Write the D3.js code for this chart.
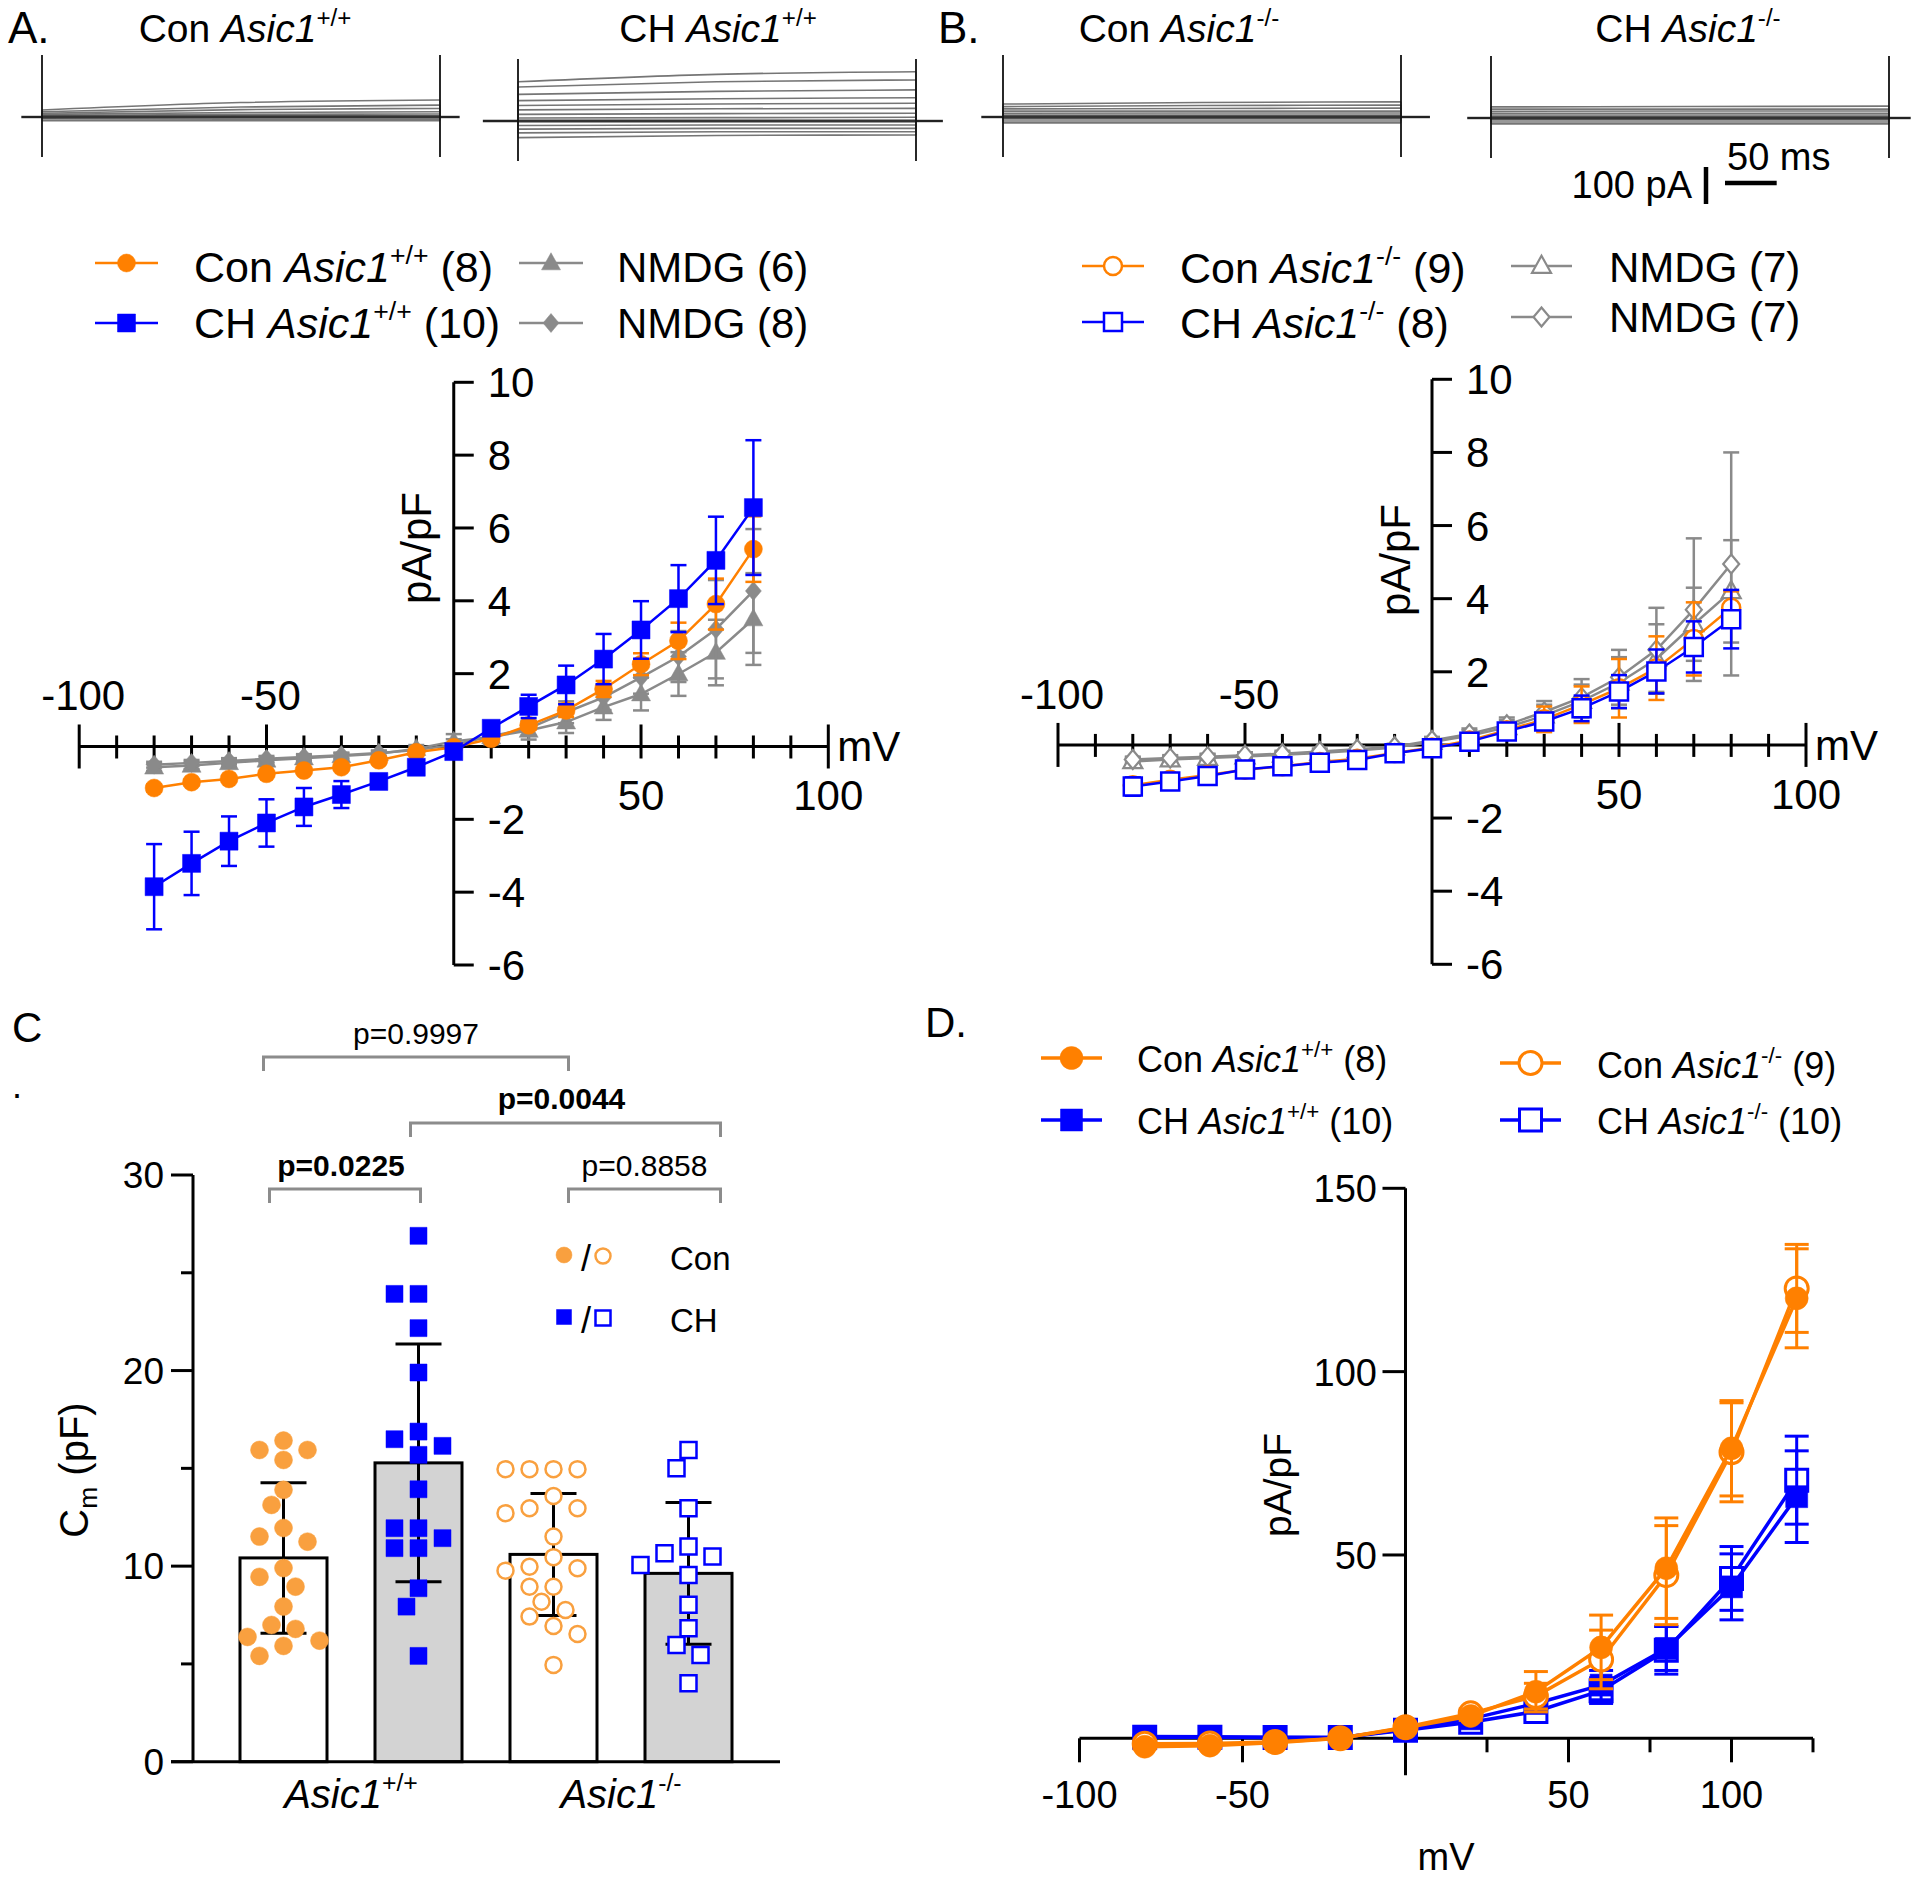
<!DOCTYPE html>
<html><head><meta charset="utf-8">
<script src="https://cdn.jsdelivr.net/npm/d3@7/dist/d3.min.js"></script>
<style>html,body{margin:0;padding:0;background:#fff;}</style>
</head><body>
<svg id="fig" width="1920" height="1879" xmlns="http://www.w3.org/2000/svg"></svg>
<script>
// ================= DATA =================
// Raw traces: each sweep = [start, middle, end] current (pA) during the voltage step
const traceConWT = [[19,39,46],[14,27,32],[10,20,23],[7,12,14],[4,7,8],[1,3,3],[0,0,0],[-5,-6,-6],[-10,-10,-10]];
const traceCHWT  = [[106,126,133],[92,106,111],[72,80,84],[55,60,63],[42,46,48],[30,33,34],[18,20,21],[8,9,10],[0,0,0],[-12,-11,-11],[-22,-20,-20],[-32,-29,-29],[-45,-39,-38]];
const traceConKO = [[35,39,41],[28,31,32],[22,23,24],[16,16,16],[10,11,11],[5,5,5],[0,0,0],[-5,-5,-5],[-11,-11,-11],[-16,-16,-16]];
const traceCHKO  = [[30,31,32],[24,24,24],[18,19,19],[13,13,13],[8,8,8],[4,4,4],[0,0,0],[-5,-5,-5],[-11,-11,-11],[-16,-16,-16]];
const traceTitles = ["Con Asic1+/+","CH Asic1+/+","Con Asic1-/-","CH Asic1-/-"];
const scaleBarPA = 100, scaleBarMS = 50;

// Panel A / B : I-V relations (mV vs pA/pF)
const ivVoltage = [-80,-70,-60,-50,-40,-30,-20,-10,0,10,20,30,40,50,60,70,80];
const ivYTicks = [-6,-4,-2,2,4,6,8,10];
const ivXLabels = [-100,-50,50,100];

const conWT    = [-1.14,-0.98,-0.89,-0.75,-0.66,-0.57,-0.38,-0.16,-0.02,0.21,0.58,0.99,1.58,2.26,2.90,3.91,5.42];
const conWTErr = [0.10,0.08,0.08,0.07,0.07,0.06,0.06,0.05,0.05,0.08,0.12,0.18,0.22,0.30,0.50,0.70,0.90];
const chWT     = [-3.85,-3.21,-2.60,-2.10,-1.66,-1.32,-0.96,-0.57,-0.14,0.50,1.10,1.69,2.40,3.20,4.06,5.11,6.56];
const chWTErr  = [1.17,0.87,0.68,0.65,0.52,0.37,0.15,0.10,0.10,0.15,0.32,0.53,0.69,0.79,0.92,1.20,1.85];
const nmdgA6   = [-0.57,-0.52,-0.45,-0.38,-0.32,-0.26,-0.20,-0.06,0.14,0.26,0.44,0.67,1.08,1.44,1.99,2.58,3.50];
const nmdgA6Err= [0.10,0.10,0.10,0.08,0.08,0.08,0.08,0.10,0.20,0.20,0.25,0.30,0.35,0.45,0.60,0.90,1.26];
const nmdgA8   = [-0.50,-0.45,-0.40,-0.34,-0.29,-0.24,-0.18,-0.10,0.05,0.28,0.50,0.94,1.35,1.90,2.47,3.22,4.27];
const nmdgA8Err= [0.08,0.08,0.08,0.08,0.08,0.07,0.07,0.08,0.15,0.15,0.20,0.30,0.35,0.45,0.70,1.35,1.70];

const conKO    = [-1.10,-0.95,-0.82,-0.68,-0.58,-0.47,-0.38,-0.22,-0.07,0.12,0.40,0.70,1.10,1.55,2.10,2.90,3.75];
const conKOErr = [0.20,0.18,0.15,0.12,0.10,0.08,0.07,0.07,0.07,0.10,0.18,0.35,0.50,0.80,0.87,1.00,0.45];
const chKO     = [-1.14,-1.00,-0.85,-0.67,-0.58,-0.49,-0.41,-0.23,-0.09,0.09,0.37,0.64,1.00,1.46,2.01,2.68,3.44];
const chKOErr  = [0.25,0.20,0.15,0.12,0.10,0.08,0.07,0.07,0.07,0.08,0.12,0.20,0.35,0.45,0.60,0.70,0.80];
const nmdgB7a  = [-0.45,-0.40,-0.36,-0.32,-0.27,-0.22,-0.15,-0.07,0.08,0.25,0.48,0.80,1.20,1.70,2.35,3.30,4.20];
const nmdgB7aErr=[0.10,0.10,0.10,0.08,0.08,0.08,0.08,0.08,0.10,0.15,0.20,0.30,0.45,0.70,0.95,1.00,1.40];
const nmdgB7b  = [-0.40,-0.36,-0.32,-0.28,-0.24,-0.18,-0.12,-0.05,0.12,0.30,0.55,0.90,1.30,1.85,2.60,3.70,4.95];
const nmdgB7bErr=[0.08,0.08,0.08,0.08,0.08,0.08,0.08,0.08,0.10,0.15,0.20,0.30,0.50,0.75,1.15,1.95,3.05];

// Panel C : membrane capacitance
const cmGroups = ["Con Asic1+/+","CH Asic1+/+","Con Asic1-/-","CH Asic1-/-"];
const cmMean = [10.42, 15.28, 10.60, 9.63];
const cmSD   = [3.85, 6.08, 3.12, 3.62];
const cmConWT = [16.42,15.94,15.43,15.94,13.90,13.13,11.95,11.51,11.25,9.90,9.45,8.95,7.93,6.99,6.79,6.38,6.19,5.92,5.41];
const cmCHWT  = [26.89,23.92,23.92,22.17,19.90,16.88,16.49,16.15,15.69,13.93,11.94,11.94,11.43,10.92,10.92,8.87,7.93,5.41];
const cmConKO = [14.96,14.96,14.96,14.96,13.59,12.96,12.96,12.71,11.51,10.46,9.97,9.89,9.77,8.95,8.95,8.18,7.76,7.42,6.94,6.53,4.95];
const cmCHKO  = [15.94,15.00,12.96,11.00,10.66,10.49,10.06,9.55,8.02,6.82,5.97,5.46,4.01];
const cmYTicks = [0,10,20,30];
const cmMinorTicks = [5,15,25];
const pLabels = ["p=0.9997","p=0.0044","p=0.0225","p=0.8858"];

// Panel D
const dVoltage = [-80,-60,-40,-20,0,20,40,60,80,100,120];
const dConWT    = [-2.3,-2.0,-1.2,0.0,2.9,6.1,12.7,24.8,46.4,79.1,120.0];
const dConWTErr = [0.6,0.5,0.4,0.4,0.6,1.2,5.5,8.8,13.7,13.0,13.5];
const dConKO    = [-1.5,-1.4,-1.0,0.0,3.0,6.8,11.5,21.5,44.5,78.0,122.7];
const dConKOErr = [0.5,0.5,0.4,0.4,0.6,1.2,3.5,8.0,13.5,13.5,12.0];
const dCHWT     = [0.5,0.4,0.3,0.2,2.4,5.3,9.5,14.5,24.5,41.3,65.9];
const dCHWTErr  = [0.4,0.4,0.3,0.3,0.5,1.0,2.5,4.0,6.0,9.0,12.5];
const dCHKO     = [0.3,0.3,0.2,0.2,2.2,4.4,7.3,13.0,24.0,43.6,70.4];
const dCHKOErr  = [0.4,0.4,0.3,0.3,0.5,1.0,2.0,3.5,6.5,8.7,12.0];
const dYTicks = [50,100,150];
const dXLabels = [-100,-50,50,100];
const dMajorTicks = [-100,-50,50,100];
const dMinorTicks = [25,75,125];

// ================= DRAWING =================
const svg = d3.select("#fig");
const F = "'Liberation Sans', Arial, Helvetica, sans-serif";
const ORANGE = "#ff8000", BLUE = "#0000ff", GRAY = "#8a8a8a", LORANGE = "#f9a03f";

function addText(g, x, y, parts, size, anchor, weight) {
  const t = g.append("text").attr("x", x).attr("y", y).attr("font-size", size)
    .attr("font-family", F).attr("text-anchor", anchor || "start")
    .attr("font-weight", weight || "normal").attr("fill", "#000");
  if (typeof parts === "string") { t.text(parts); return t; }
  let shift = 0;
  parts.forEach(p => {
    const ts = t.append("tspan").text(p.t);
    if (p.i) ts.attr("font-style", "italic");
    let target = 0;
    if (p.sup) { ts.attr("font-size", size * 0.62); target = -size * 0.42; }
    if (p.sub) { ts.attr("font-size", size * 0.66); target = size * 0.22; }
    if (target !== shift) { ts.attr("dy", target - shift); shift = target; }
  });
  return t;
}
function genoParts(label) {
  const m = label.match(/^(.*?)(Asic1)([+\-]\/[+\-])(.*)$/);
  if (!m) return [{t: label}];
  const parts = [];
  if (m[1]) parts.push({t: m[1]});
  parts.push({t: m[2], i: true});
  parts.push({t: m[3], sup: true});
  if (m[4]) parts.push({t: m[4]});
  return parts;
}

function shapePath(shape, cx, cy, s) {
  const h = s / 2;
  if (shape === "circle") {
    return `M${cx - h},${cy}a${h},${h} 0 1,0 ${s},0a${h},${h} 0 1,0 ${-s},0Z`;
  } else if (shape === "square") {
    return `M${cx - h},${cy - h}h${s}v${s}h${-s}Z`;
  } else if (shape === "triangle") {
    const th = s * 0.9;
    return `M${cx},${cy - th * 0.6}L${cx + h},${cy + th * 0.4}L${cx - h},${cy + th * 0.4}Z`;
  } else {
    const w = s * 0.42;
    return `M${cx},${cy - h}L${cx + w},${cy}L${cx},${cy + h}L${cx - w},${cy}Z`;
  }
}
function sym(g, shape, cx, cy, s, color, open, sw) {
  g.append("path").attr("d", shapePath(shape, cx, cy, s))
    .attr("fill", open ? "#fff" : color).attr("stroke", color)
    .attr("stroke-width", open ? sw : 0.5);
}

// ---------- Panel letters ----------
addText(svg, 8, 43, "A.", 44);
addText(svg, 938, 43, "B.", 44);
addText(svg, 12, 1042, "C", 42);
addText(svg, 12, 1098, ".", 36);
addText(svg, 925, 1037, "D.", 42);

// ---------- Raw traces ----------
const msToPx = d3.scaleLinear().domain([0, 385]).range([0, 398]);
const pAToPx = 0.37;
function tracePanel(stepX, baseY, pre, post, sweeps, title, titleX) {
  const g = svg.append("g");
  const tx = d3.scaleLinear().domain([0, 385]).range([stepX, stepX + msToPx(385)]);
  const ty = v => baseY - v * pAToPx;
  const stepLine = d3.line().x(d => tx(d[0])).y(d => ty(d[1])).curve(d3.curveMonotoneX);
  sweeps.forEach(s => {
    g.append("path").attr("d", stepLine([[0, s[0]], [192, s[1]], [385, s[2]]]))
      .attr("fill", "none").attr("stroke", "#666").attr("stroke-width", 1.6).attr("opacity", 0.9);
    g.append("line").attr("x1", tx(0)).attr("x2", tx(0)).attr("y1", baseY).attr("y2", ty(s[0]))
      .attr("stroke", "#666").attr("stroke-width", 1);
    g.append("line").attr("x1", tx(385)).attr("x2", tx(385)).attr("y1", baseY).attr("y2", ty(s[2]))
      .attr("stroke", "#666").attr("stroke-width", 1);
  });
  g.append("line").attr("x1", tx(-pre)).attr("x2", tx(0)).attr("y1", baseY).attr("y2", baseY).attr("stroke", "#222").attr("stroke-width", 2.4);
  g.append("line").attr("x1", tx(385)).attr("x2", tx(385 + post)).attr("y1", baseY).attr("y2", baseY).attr("stroke", "#222").attr("stroke-width", 2.4);
  g.append("line").attr("x1", tx(0)).attr("x2", tx(385)).attr("y1", baseY).attr("y2", baseY).attr("stroke", "#333").attr("stroke-width", 3);
  [0, 385].forEach(t => {
    g.append("line").attr("x1", tx(t)).attr("x2", tx(t)).attr("y1", baseY - 62).attr("y2", baseY + 40)
      .attr("stroke", "#111").attr("stroke-width", 1.8);
  });
  addText(g, titleX, 42, genoParts(title), 39, "middle");
}
tracePanel(42, 117, 20, 19, traceConWT, traceTitles[0], 245);
tracePanel(518, 121, 34, 26, traceCHWT, traceTitles[1], 718);
tracePanel(1003, 117, 21, 28, traceConKO, traceTitles[2], 1179);
tracePanel(1491, 118, 23, 21, traceCHKO, traceTitles[3], 1688);
(function () {
  const g = svg.append("g");
  const vx = 1706, vy = 167;
  g.append("line").attr("x1", vx).attr("x2", vx).attr("y1", vy).attr("y2", vy + scaleBarPA * pAToPx)
    .attr("stroke", "#000").attr("stroke-width", 4.5);
  g.append("line").attr("x1", 1725).attr("x2", 1725 + msToPx(scaleBarMS)).attr("y1", 183).attr("y2", 183)
    .attr("stroke", "#000").attr("stroke-width", 4.5);
  addText(g, 1692, 198, scaleBarPA + " pA", 38, "end");
  addText(g, 1727, 170, scaleBarMS + " ms", 38, "start");
})();

// ---------- IV panels ----------
function ivPanel(o) {
  const g = svg.append("g");
  const x = d3.scaleLinear().domain([-100, 100]).range(o.xr);
  const y = d3.scaleLinear().domain([-6, 10]).range(o.yr);
  const X0 = x(0), Y0 = y(0);
  const ax = g.append("g").attr("stroke", "#000").attr("stroke-width", 3).attr("fill", "none");
  ax.append("line").attr("x1", X0).attr("x2", X0).attr("y1", y(-6)).attr("y2", y(10));
  ivYTicks.forEach(t => {
    ax.append("line").attr("x1", X0).attr("x2", X0 + 20).attr("y1", y(t)).attr("y2", y(t));
    addText(g, X0 + 34, y(t) + 15, String(t), 42);
  });
  ax.append("line").attr("x1", x(-100)).attr("x2", x(100)).attr("y1", Y0).attr("y2", Y0);
  d3.range(-100, 101, 10).forEach(t => {
    if (t === 0) return;
    let up = 11, dn = 12;
    if (Math.abs(t) === 50) up = 22;
    if (Math.abs(t) === 100) { up = 22; dn = 22; }
    ax.append("line").attr("x1", x(t)).attr("x2", x(t)).attr("y1", Y0 - up).attr("y2", Y0 + dn);
  });
  ivXLabels.forEach(t => {
    addText(g, x(t) + (t < 0 ? 4 : 0), t > 0 ? Y0 + 64 : Y0 - 36, String(t), 42, "middle");
  });
  addText(g, x(100) + 9, Y0 + 15, "mV", 42);
  const yl = g.append("g").attr("transform", `translate(${o.ylx},${o.yly}) rotate(-90)`);
  addText(yl, 0, 0, "pA/pF", 42, "middle");
  return {g, x, y};
}

function drawSeries(p, xs, ys, es, st) {
  const g = p.g.append("g");
  const x = p.x, y = p.y;
  xs.forEach((v, i) => {
    const cx = x(v), y1 = y(ys[i] + es[i]), y2 = y(ys[i] - es[i]);
    g.append("line").attr("x1", cx).attr("x2", cx).attr("y1", y1).attr("y2", y2).attr("stroke", st.color).attr("stroke-width", st.elw);
    [y1, y2].forEach(yy => g.append("line").attr("x1", cx - st.cap / 2).attr("x2", cx + st.cap / 2)
      .attr("y1", yy).attr("y2", yy).attr("stroke", st.color).attr("stroke-width", st.elw));
  });
  g.append("path").datum(xs.map((v, i) => [v, ys[i]]))
    .attr("d", d3.line().x(d => x(d[0])).y(d => y(d[1])))
    .attr("fill", "none").attr("stroke", st.color).attr("stroke-width", st.lw);
  xs.forEach((v, i) => sym(g, st.shape, x(v), y(ys[i]), st.size, st.color, st.open, st.sw));
}

function legendItem(g, x1, x2, yy, st, label, tx, tBase, size) {
  g.append("line").attr("x1", x1).attr("x2", x2).attr("y1", yy).attr("y2", yy).attr("stroke", st.color).attr("stroke-width", st.lw);
  sym(g, st.shape, (x1 + x2) / 2, yy, st.size, st.color, st.open, st.sw);
  addText(g, tx, tBase, genoParts(label), size);
}

// Panel A
const pA = ivPanel({xr: [79.2, 828.3], yr: [965, 382.3], ylx: 431, yly: 548});
const stA = {
  nmdg6: {color: GRAY, shape: "triangle", size: 19, lw: 2.5, elw: 2.5, cap: 16},
  nmdg8: {color: GRAY, shape: "diamond", size: 19, lw: 2.5, elw: 2.5, cap: 16},
  con:   {color: ORANGE, shape: "circle", size: 18, lw: 2.5, elw: 2.5, cap: 16},
  ch:    {color: BLUE, shape: "square", size: 18, lw: 2.5, elw: 2.5, cap: 16}
};
drawSeries(pA, ivVoltage, nmdgA6, nmdgA6Err, stA.nmdg6);
drawSeries(pA, ivVoltage, nmdgA8, nmdgA8Err, stA.nmdg8);
drawSeries(pA, ivVoltage, conWT, conWTErr, stA.con);
drawSeries(pA, ivVoltage, chWT, chWTErr, stA.ch);
legendItem(svg, 95, 158, 263, stA.con, "Con Asic1+/+ (8)", 194, 282, 43);
legendItem(svg, 95, 158, 323, stA.ch, "CH Asic1+/+ (10)", 194, 338, 43);
legendItem(svg, 519, 583, 263, stA.nmdg6, "NMDG (6)", 617, 282, 42);
legendItem(svg, 519, 583, 323, stA.nmdg8, "NMDG (8)", 617, 338, 42);

// Panel B
const pB = ivPanel({xr: [1058, 1806], yr: [964.3, 379.3], ylx: 1410, yly: 560});
const stB = {
  nmdga: {color: GRAY, shape: "triangle", size: 19, lw: 2.5, elw: 2.5, cap: 16, open: true, sw: 2.2},
  nmdgb: {color: GRAY, shape: "diamond", size: 19, lw: 2.5, elw: 2.5, cap: 16, open: true, sw: 2.2},
  con:   {color: ORANGE, shape: "circle", size: 18, lw: 2.5, elw: 2.5, cap: 16, open: true, sw: 2.5},
  ch:    {color: BLUE, shape: "square", size: 18, lw: 2.5, elw: 2.5, cap: 16, open: true, sw: 2.5}
};
drawSeries(pB, ivVoltage, nmdgB7a, nmdgB7aErr, stB.nmdga);
drawSeries(pB, ivVoltage, nmdgB7b, nmdgB7bErr, stB.nmdgb);
drawSeries(pB, ivVoltage, conKO, conKOErr, stB.con);
drawSeries(pB, ivVoltage, chKO, chKOErr, stB.ch);
legendItem(svg, 1082, 1144, 266, stB.con, "Con Asic1-/- (9)", 1180, 283, 43);
legendItem(svg, 1082, 1144, 322, stB.ch, "CH Asic1-/- (8)", 1180, 338, 43);
legendItem(svg, 1511, 1572, 266, stB.nmdga, "NMDG (7)", 1609, 282, 42);
legendItem(svg, 1511, 1572, 317, stB.nmdgb, "NMDG (7)", 1609, 332, 42);

// ---------- Panel C ----------
(function () {
  const g = svg.append("g");
  const x = d3.scaleBand().domain(cmGroups).range([216, 756]).paddingInner(48 / 135).paddingOuter(24 / 135);
  const y = d3.scaleLinear().domain([0, 30]).range([1761.7, 1175]);
  const bw = x.bandwidth();
  const X0 = 193;
  cmGroups.forEach((k, i) => {
    g.append("rect").attr("x", x(k)).attr("y", y(cmMean[i])).attr("width", bw).attr("height", y(0) - y(cmMean[i]))
      .attr("fill", i % 2 ? "#d3d3d3" : "#fff").attr("stroke", "#000").attr("stroke-width", 3);
  });
  const ax = g.append("g").attr("stroke", "#000").attr("stroke-width", 3);
  ax.append("line").attr("x1", X0).attr("x2", X0).attr("y1", y(0)).attr("y2", y(30));
  ax.append("line").attr("x1", 171).attr("x2", 780).attr("y1", y(0)).attr("y2", y(0));
  cmYTicks.forEach(t => {
    ax.append("line").attr("x1", X0 - 22).attr("x2", X0).attr("y1", y(t)).attr("y2", y(t));
    addText(g, 164, y(t) + 13, String(t), 37, "end");
  });
  cmMinorTicks.forEach(t => ax.append("line").attr("x1", X0 - 12).attr("x2", X0).attr("y1", y(t)).attr("y2", y(t)));
  cmGroups.forEach((k, i) => {
    const cx = x(k) + bw / 2, y1 = y(cmMean[i] + cmSD[i]), y2 = y(cmMean[i] - cmSD[i]);
    g.append("line").attr("x1", cx).attr("x2", cx).attr("y1", y1).attr("y2", y2).attr("stroke", "#000").attr("stroke-width", 3);
    [y1, y2].forEach(yy => g.append("line").attr("x1", cx - 23).attr("x2", cx + 23).attr("y1", yy).attr("y2", yy).attr("stroke", "#000").attr("stroke-width", 3));
  });
  const sets = [
    {v: cmConWT, shape: "circle", color: LORANGE, open: false, size: 18},
    {v: cmCHWT, shape: "square", color: BLUE, open: false, size: 17},
    {v: cmConKO, shape: "circle", color: LORANGE, open: true, size: 16},
    {v: cmCHKO, shape: "square", color: BLUE, open: true, size: 16}
  ];
  const offs = [0, -12, 12, -24, 24, -36, 36, -48, 48];
  sets.forEach((s, i) => {
    const cx = x(cmGroups[i]) + bw / 2;
    const placed = [];
    s.v.forEach(v => {
      const py = y(v);
      let chosen = offs[offs.length - 1];
      for (const o of offs) {
        if (placed.every(p => Math.hypot(p[0] - o, p[1] - py) >= 19)) { chosen = o; break; }
      }
      placed.push([chosen, py]);
      sym(g, s.shape, cx + chosen, py, s.size, s.color, s.open, 2.5);
    });
  });
  const gl = [["Asic1+/+", 0, 1], ["Asic1-/-", 2, 3]];
  gl.forEach(d => {
    const cx = (x(cmGroups[d[1]]) + x(cmGroups[d[2]]) + bw) / 2;
    addText(g, cx, 1808, genoParts(d[0]), 40, "middle");
  });
  const yl = g.append("g").attr("transform", "translate(88,1470) rotate(-90)");
  addText(yl, 0, 0, [{t: "C"}, {t: "m", sub: true}, {t: " (pF)"}], 40, "middle");
  const br = [
    {a: 0, b: 2, da: -20, db: 15, yb: 1057, ty: 1044, bold: false},
    {a: 1, b: 3, da: -8, db: 32, yb: 1123, ty: 1109, bold: true},
    {a: 0, b: 1, da: -14, db: 2, yb: 1189, ty: 1176, bold: true},
    {a: 2, b: 3, da: 15, db: 32, yb: 1189, ty: 1176, bold: false}
  ];
  br.forEach((b, i) => {
    const xa = x(cmGroups[b.a]) + bw / 2 + b.da, xb = x(cmGroups[b.b]) + bw / 2 + b.db;
    g.append("path").attr("d", `M${xa},${b.yb + 14}V${b.yb}H${xb}V${b.yb + 14}`)
      .attr("fill", "none").attr("stroke", "#8c8c8c").attr("stroke-width", 3);
    addText(g, (xa + xb) / 2 - (b.bold ? 4 : 0), b.ty, pLabels[i], 30, "middle", b.bold ? "bold" : "normal");
  });
  sym(g, "circle", 564, 1255, 16, LORANGE, false, 2.5);
  addText(g, 581, 1271, "/", 36);
  sym(g, "circle", 603, 1256, 15, LORANGE, true, 2.5);
  addText(g, 670, 1270, "Con", 33);
  sym(g, "square", 564, 1317, 15, BLUE, false, 2.5);
  addText(g, 581, 1333, "/", 36);
  sym(g, "square", 603, 1318, 15, BLUE, true, 2.5);
  addText(g, 670, 1332, "CH", 33);
})();

// ---------- Panel D ----------
(function () {
  const g = svg.append("g");
  const x = d3.scaleLinear().domain([-100, 100]).range([1079.5, 1731.5]);
  const y = d3.scaleLinear().domain([0, 150]).range([1738.3, 1188.3]);
  const X0 = x(0), Y0 = y(0);
  const ax = g.append("g").attr("stroke", "#000").attr("stroke-width", 3);
  ax.append("line").attr("x1", X0).attr("x2", X0).attr("y1", y(150)).attr("y2", Y0 + 37);
  dYTicks.forEach(t => {
    ax.append("line").attr("x1", X0 - 23).attr("x2", X0).attr("y1", y(t)).attr("y2", y(t));
    addText(g, 1377, y(t) + 14, String(t), 38, "end");
  });
  ax.append("line").attr("x1", x(-100)).attr("x2", x(125)).attr("y1", Y0).attr("y2", Y0);
  dMajorTicks.forEach(t => ax.append("line").attr("x1", x(t)).attr("x2", x(t)).attr("y1", Y0).attr("y2", Y0 + 24));
  dMinorTicks.forEach(t => ax.append("line").attr("x1", x(t)).attr("x2", x(t)).attr("y1", Y0).attr("y2", Y0 + 14));
  dXLabels.forEach(t => addText(g, x(t), 1808, String(t), 38, "middle"));
  addText(g, 1446, 1870, "mV", 38, "middle");
  const yl = g.append("g").attr("transform", "translate(1291,1485) rotate(-90)");
  addText(yl, 0, 0, "pA/pF", 39, "middle");
  const p = {g, x, y};
  const st = {
    chko:  {color: BLUE, shape: "square", size: 22, lw: 3.5, elw: 3, cap: 24, open: true, sw: 3},
    chwt:  {color: BLUE, shape: "square", size: 22, lw: 3.5, elw: 3, cap: 24},
    conko: {color: ORANGE, shape: "circle", size: 23, lw: 3.5, elw: 3, cap: 24, open: true, sw: 3},
    conwt: {color: ORANGE, shape: "circle", size: 23, lw: 3.5, elw: 3, cap: 24}
  };
  drawSeries(p, dVoltage, dCHKO, dCHKOErr, st.chko);
  drawSeries(p, dVoltage, dCHWT, dCHWTErr, st.chwt);
  drawSeries(p, dVoltage, dConKO, dConKOErr, st.conko);
  drawSeries(p, dVoltage, dConWT, dConWTErr, st.conwt);
  legendItem(svg, 1041, 1102, 1058, st.conwt, "Con Asic1+/+ (8)", 1137, 1072, 36);
  legendItem(svg, 1041, 1102, 1120, st.chwt, "CH Asic1+/+ (10)", 1137, 1134, 36);
  legendItem(svg, 1500, 1561, 1063, st.conko, "Con Asic1-/- (9)", 1597, 1078, 36);
  legendItem(svg, 1500, 1561, 1120, st.chko, "CH Asic1-/- (10)", 1597, 1134, 36);
})();
</script>
</body></html>
